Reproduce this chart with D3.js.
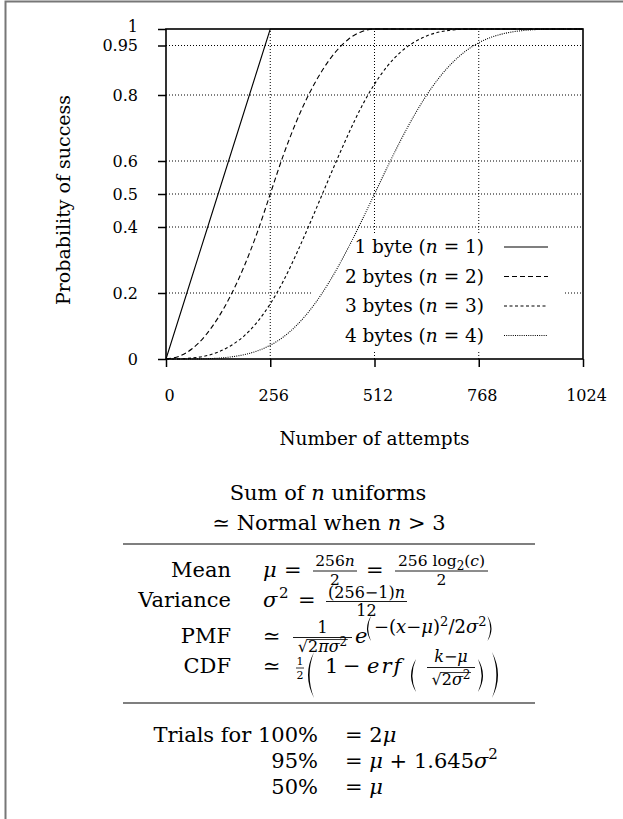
<!DOCTYPE html>
<html lang="en">
<head>
<meta charset="UTF-8">
<title>Probability of success vs number of attempts</title>
<script src="https://d3js.org/d3.v7.min.js"></script>
<style>
  body { margin: 0; background: #fff; }
  svg text { font-family: "DejaVu Serif", serif; fill: #000; white-space: pre; }
</style>
</head>
<body>
<div id="chart"></div>
<script>
// attempts sampled every 32 tries
var attempts = [0, 32, 64, 96, 128, 160, 192, 224, 256, 288, 320, 352, 384, 416, 448, 480, 512,
  544, 576, 608, 640, 672, 704, 736, 768, 800, 832, 864, 896, 928, 960, 992, 1024];

// probability of success
var oneByte = [0, 0.125, 0.25, 0.375, 0.5, 0.625, 0.75, 0.875, 1, 1, 1, 1, 1, 1, 1, 1, 1,
  1, 1, 1, 1, 1, 1, 1, 1, 1, 1, 1, 1, 1, 1, 1, 1];
var twoBytes = [0, 0.008, 0.031, 0.070, 0.125, 0.195, 0.281, 0.383, 0.5, 0.617, 0.719, 0.805, 0.875, 0.930, 0.969, 0.992, 1,
  1, 1, 1, 1, 1, 1, 1, 1, 1, 1, 1, 1, 1, 1, 1, 1];
var threeBytes = [0, 0.0003, 0.003, 0.009, 0.021, 0.041, 0.070, 0.112, 0.167, 0.236, 0.318, 0.407, 0.5, 0.593, 0.682, 0.764, 0.833,
  0.888, 0.930, 0.959, 0.979, 0.991, 0.997, 0.9997, 1, 1, 1, 1, 1, 1, 1, 1, 1];
var fourBytes = [0, 0.00001, 0.0002, 0.0008, 0.0026, 0.0064, 0.0132, 0.0244, 0.0417, 0.0667, 0.1011, 0.1456, 0.2005, 0.2651, 0.3381, 0.4173, 0.5,
  0.5827, 0.6619, 0.7349, 0.7995, 0.8544, 0.8989, 0.9333, 0.9583, 0.9756, 0.9868, 0.9936, 0.9974, 0.9992, 0.9998, 0.99999, 1];

var seriesLabels = ["1 byte", "2 bytes", "3 bytes", "4 bytes"];
var seriesN = [1, 2, 3, 4];
var xTicks = [0, 256, 512, 768, 1024];
var yTicks = [0, 0.2, 0.4, 0.5, 0.6, 0.8, 0.95, 1];
var gridX = [256, 512, 768];
var gridY = [0.2, 0.4, 0.5, 0.6, 0.8, 0.95];

var series = [oneByte, twoBytes, threeBytes, fourBytes];
var dashes = [null, "5,3", "3,2.5", "1,1.2"];

var svg = d3.select("#chart").append("svg")
  .attr("width", 623)
  .attr("height", 819);

// grey page frame (left and top edges only visible)
svg.append("path")
  .attr("d", "M5.5,819V1.5H623")
  .attr("fill", "none")
  .attr("stroke", "#777")
  .attr("stroke-width", 2);

var x = d3.scaleLinear().domain([0, 1024]).range([166, 583]);
var y = d3.scaleLinear().domain([0, 1]).range([359, 29]);

// dotted grid
svg.append("g").selectAll("line").data(gridY).join("line")
  .attr("x1", x(0)).attr("x2", x(1024))
  .attr("y1", function (d) { return y(d); })
  .attr("y2", function (d) { return y(d); })
  .attr("stroke", "#000").attr("stroke-width", 1).attr("stroke-dasharray", "1,2");
svg.append("g").selectAll("line").data(gridX).join("line")
  .attr("x1", function (d) { return x(d); })
  .attr("x2", function (d) { return x(d); })
  .attr("y1", y(0)).attr("y2", y(1))
  .attr("stroke", "#000").attr("stroke-width", 1).attr("stroke-dasharray", "1,2");

// legend background hides the grid behind it
svg.append("rect")
  .attr("x", 312).attr("y", 233).attr("width", 253).attr("height", 117)
  .attr("fill", "#fff");

// curves (1 byte is a straight ramp, the others are smooth)
var line = d3.line()
  .x(function (d, i) { return x(attempts[i]); })
  .y(function (d) { return y(d); });

svg.append("g").selectAll("path").data(series).join("path")
  .attr("d", function (d, i) { return line.curve(i === 0 ? d3.curveLinear : d3.curveMonotoneX)(d); })
  .attr("fill", "none")
  .attr("stroke", "#000")
  .attr("stroke-width", 1.1)
  .attr("stroke-dasharray", function (d, i) { return dashes[i]; });

// plot border
svg.append("rect")
  .attr("x", x(0)).attr("y", y(1))
  .attr("width", x(1024) - x(0)).attr("height", y(0) - y(1))
  .attr("fill", "none").attr("stroke", "#000").attr("stroke-width", 1.6);

// axes
var gy = svg.append("g")
  .attr("transform", "translate(" + x(0) + ",0)")
  .call(d3.axisLeft(y).tickValues(yTicks).tickFormat(function (d) { return String(d); })
    .tickSize(8).tickPadding(20).tickSizeOuter(0));
gy.attr("font-size", 16);
gy.select(".domain").remove();
gy.selectAll(".tick line").attr("stroke-width", 1.5);
gy.selectAll(".tick text").filter(function (d) { return d === 1; }).attr("dy", "0.18em");

var gx = svg.append("g")
  .attr("transform", "translate(0," + y(0) + ")")
  .call(d3.axisBottom(x).tickValues(xTicks).tickFormat(d3.format("d"))
    .tickSize(8).tickPadding(23).tickSizeOuter(0));
gx.attr("font-size", 16);
gx.select(".domain").remove();
gx.selectAll(".tick line").attr("stroke-width", 1.5);
gx.selectAll(".tick text").attr("dx", 3);

// axis titles
svg.append("text")
  .attr("x", (x(0) + x(1024)) / 2).attr("y", 445)
  .attr("font-size", 18.5).attr("text-anchor", "middle")
  .text("Number of attempts");
svg.append("text")
  .attr("transform", "translate(70,200) rotate(-90)")
  .attr("font-size", 19).attr("text-anchor", "middle")
  .text("Probability of success");

// legend
var legend = svg.append("g");
seriesLabels.forEach(function (lab, i) {
  var by = 253 + i * 29.5;
  var t = legend.append("text").attr("x", 484).attr("y", by)
    .attr("font-size", 18.5).attr("text-anchor", "end");
  t.append("tspan").text(lab + " (");
  t.append("tspan").attr("font-style", "italic").text("n");
  t.append("tspan").text(" = " + seriesN[i] + ")");
  legend.append("line")
    .attr("x1", 504).attr("x2", 548).attr("y1", by - 6).attr("y2", by - 6)
    .attr("stroke", "#000").attr("stroke-width", 1.1)
    .attr("stroke-dasharray", dashes[i]);
});

// ---- formula block ----
var MAIN = 21;

function put(g, px, py, str, size, it, anchor) {
  var t = g.append("text").attr("x", px).attr("y", py).attr("font-size", size).text(str);
  if (it) t.attr("font-style", "italic");
  if (anchor) t.attr("text-anchor", anchor);
  return t;
}
// lay pieces one after another, returns end x
function run(g, px, py, parts) {
  parts.forEach(function (p) {
    px += p.gap || 0;
    var t = put(g, px, py + (p.dy || 0), p.t, p.s || MAIN, p.it);
    if (p.ls) t.attr("letter-spacing", p.ls);
    px += t.node().getComputedTextLength();
  });
  return px;
}
function runC(g, cx, py, parts) {
  var h = g.append("g");
  var w = run(h, 0, py, parts);
  h.attr("transform", "translate(" + (cx - w / 2) + ",0)");
  return w;
}
function rule(g, x1, x2, ry, w) {
  g.append("line").attr("x1", x1).attr("x2", x2).attr("y1", ry).attr("y2", ry)
    .attr("stroke", "#000").attr("stroke-width", w || 0.9);
}
function radical(g, cx, py, parts, size) {
  var h = g.append("g");
  var x0 = run(h, 0, py, [{ t: "√", s: size }]);
  var x1 = run(h, x0, py, parts);
  rule(h, x0 - 0.6, x1 + 0.5, py - size * 0.78, 0.8);
  h.attr("transform", "translate(" + (cx - x1 / 2) + ",0)");
}
function paren(g, px, y1, y2, w, right, th) {
  var m = (y1 + y2) / 2, d;
  th = th || 1.2;
  if (!right) {
    d = "M" + (px + w) + "," + y1 + "Q" + (px - w) + "," + m + " " + (px + w) + "," + y2 +
      "Q" + (px - w + 2 * th) + "," + m + " " + (px + w) + "," + y1 + "Z";
  } else {
    d = "M" + px + "," + y1 + "Q" + (px + 2 * w) + "," + m + " " + px + "," + y2 +
      "Q" + (px + 2 * w - 2 * th) + "," + m + " " + px + "," + y1 + "Z";
  }
  g.append("path").attr("d", d).attr("fill", "#000");
}

var f = svg.append("g");

var t1 = f.append("text").attr("x", 328).attr("y", 500).attr("font-size", MAIN).attr("text-anchor", "middle");
t1.append("tspan").text("Sum of ");
t1.append("tspan").attr("font-style", "italic").text("n");
t1.append("tspan").text(" uniforms");
var t2 = f.append("text").attr("x", 329).attr("y", 530).attr("font-size", MAIN).attr("text-anchor", "middle");
t2.append("tspan").text("≃ Normal when ");
t2.append("tspan").attr("font-style", "italic").text("n");
t2.append("tspan").text(" > 3");

rule(f, 123, 535, 544, 1.2);

put(f, 231, 577, "Mean", MAIN, false, "end");
put(f, 231, 607, "Variance", MAIN, false, "end");
put(f, 231, 643, "PMF", MAIN, false, "end");
put(f, 231, 673, "CDF", MAIN, false, "end");

// Mean
put(f, 263, 577, "μ", MAIN, true);
put(f, 284, 577, "=", MAIN);
runC(f, 335, 566, [{ t: "256", s: 15.5 }, { t: "n", s: 15.5, it: true }]);
rule(f, 313, 357, 571);
runC(f, 335, 585, [{ t: "2", s: 15.5 }]);
put(f, 366, 577, "=", MAIN);
runC(f, 441.5, 566, [{ t: "256 log", s: 15.5 }, { t: "2", s: 12, dy: 4 }, { t: "(", s: 15.5 },
  { t: "c", s: 15.5, it: true }, { t: ")", s: 15.5 }]);
rule(f, 395, 488, 571);
runC(f, 441.5, 585, [{ t: "2", s: 15.5 }]);

// Variance
put(f, 263, 607, "σ", MAIN, true);
put(f, 279, 598, "2", 15);
put(f, 298, 607, "=", MAIN);
runC(f, 366.5, 598, [{ t: "(256−1)", s: 16 }, { t: "n", s: 16, it: true }]);
rule(f, 326, 407, 601.5);
runC(f, 366.5, 616, [{ t: "12", s: 16 }]);

// PMF
put(f, 263, 643, "≃", MAIN);
runC(f, 322.5, 633, [{ t: "1", s: 16 }]);
rule(f, 293, 352, 637.5);
radical(f, 322.5, 652, [{ t: "2", s: 16 }, { t: "πσ", s: 16, it: true }, { t: "2", s: 12, dy: -6 }], 16);
put(f, 355, 643, "e", MAIN, true);
paren(f, 367, 616, 641, 4, false);
var pe = run(f, 374, 633, [{ t: "−(", s: 18 }, { t: "x", s: 18, it: true }, { t: "−", s: 18 },
  { t: "μ", s: 18, it: true }, { t: ")", s: 18 }, { t: "2", s: 13, dy: -7 }, { t: "/2", s: 18 },
  { t: "σ", s: 18, it: true }, { t: "2", s: 13, dy: -7 }]);
paren(f, pe + 1, 616, 641, 4, true);

// CDF
put(f, 263, 673, "≃", MAIN);
runC(f, 300, 665, [{ t: "1", s: 11 }]);
rule(f, 296, 304, 668, 0.8);
runC(f, 300, 679, [{ t: "2", s: 11 }]);
paren(f, 308, 652, 698, 6, false, 1.6);
put(f, 325, 673, "1", MAIN);
put(f, 343, 673, "−", MAIN);
put(f, 367, 673, "erf", MAIN, true).attr("letter-spacing", 2);
paren(f, 411, 659, 692, 5, false, 1.4);
runC(f, 451, 662, [{ t: "k", s: 16, it: true }, { t: "−", s: 16 }, { t: "μ", s: 16, it: true }]);
rule(f, 427, 475, 667.5);
radical(f, 451, 685, [{ t: "2", s: 16 }, { t: "σ", s: 16, it: true }, { t: "2", s: 12, dy: -6 }], 16);
paren(f, 478, 659, 692, 5, true, 1.4);
paren(f, 492, 652, 698, 6, true, 1.6);

rule(f, 123, 535, 703, 1.2);

// Trials
put(f, 318, 742, "Trials for 100%", MAIN, false, "end");
run(f, 345, 742, [{ t: "= 2" }, { t: "μ", it: true }]);
put(f, 318, 768, "95%", MAIN, false, "end");
run(f, 345, 768, [{ t: "= " }, { t: "μ", it: true }, { t: " + 1.645" }, { t: "σ", it: true }, { t: "2", s: 15, dy: -9 }]);
put(f, 318, 794, "50%", MAIN, false, "end");
run(f, 345, 794, [{ t: "= " }, { t: "μ", it: true }]);
</script>
</body>
</html>
